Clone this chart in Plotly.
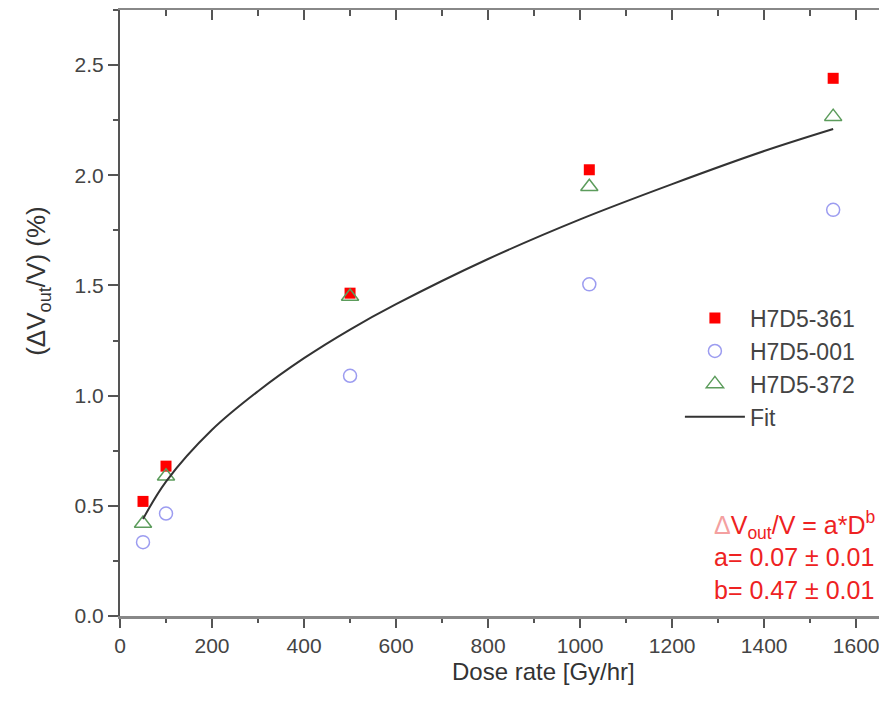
import plotly.graph_objects as go

# ---- data ----
dose = [50, 100, 500, 1020, 1550]
h361 = [0.52, 0.68, 1.465, 2.025, 2.44]
h001 = [0.335, 0.465, 1.09, 1.505, 1.843]
h372 = [0.42, 0.634, 1.45, 1.948, 2.266]

fit_x = [50, 100, 200, 300, 400, 500, 600, 800, 1000, 1200, 1400, 1550]
fit_y = [0.44, 0.61, 0.845, 1.02, 1.17, 1.30, 1.415, 1.62, 1.80, 1.96, 2.11, 2.21]

x_ticks = [0, 200, 400, 600, 800, 1000, 1200, 1400, 1600]
y_ticks = [0.0, 0.5, 1.0, 1.5, 2.0, 2.5]

FONT = "Liberation Sans, Arial, sans-serif"
AXC = "#555555"
TXT = "#444444"

fig = go.Figure()
fig.add_trace(go.Scatter(x=dose, y=h361, mode="markers", name="H7D5-361",
                         marker=dict(symbol="square", size=11, color="#ff0000",
                                     line=dict(width=0))))
fig.add_trace(go.Scatter(x=dose, y=h001, mode="markers", name="H7D5-001",
                         marker=dict(symbol="circle-open", size=13, color="#9c9cf0",
                                     line=dict(width=1.5))))
fig.add_trace(go.Scatter(x=dose, y=h372, mode="markers", name="H7D5-372",
                         marker=dict(symbol="triangle-up-open", size=15, color="#5c9c5c",
                                     line=dict(width=1.5))))
fig.add_trace(go.Scatter(x=fit_x, y=fit_y, mode="lines", name="Fit",
                         line=dict(color="#333333", width=2, shape="spline")))
# dummy trace for the top (mirrored) axis
fig.add_trace(go.Scatter(x=[None], y=[None], xaxis="x2", showlegend=False,
                         hoverinfo="skip"))

xr = [0, 1667]
fig.update_layout(
    width=879, height=696,
    margin=dict(l=112, r=0, t=2, b=88),
    paper_bgcolor="white", plot_bgcolor="white",
    font=dict(family=FONT, color=TXT, size=21),
    showlegend=True,
    legend=dict(x=0.730, y=0.527, xanchor="left", yanchor="top",
                font=dict(size=23, color=TXT), itemwidth=60,
                bgcolor="rgba(0,0,0,0)", tracegroupgap=0),
    xaxis=dict(range=xr, tickvals=x_ticks, ticktext=[str(v) for v in x_ticks],
               showgrid=False, zeroline=False, showline=True, linecolor="#888888",
               linewidth=3, ticks="outside", ticklen=9, tickwidth=2, tickcolor=AXC,
               minor=dict(dtick=100, ticks="outside", ticklen=4, tickwidth=2,
                          tickcolor=AXC, showgrid=False),
               tickfont=dict(size=21, color=TXT)),
    xaxis2=dict(range=xr, overlaying="x", side="top", anchor="y",
                showgrid=False, zeroline=False, showline=True, linecolor="#888888",
                linewidth=3, ticks="inside", ticklen=10, tickwidth=2, tickcolor=AXC,
                tickvals=x_ticks, showticklabels=False,
                minor=dict(dtick=100, ticks="inside", ticklen=6, tickwidth=2,
                           tickcolor=AXC, showgrid=False)),
    yaxis=dict(range=[0, 2.75], tickvals=y_ticks, ticktext=[f"{v:.1f}" for v in y_ticks],
               showgrid=False, zeroline=False, showline=True, linecolor=AXC,
               linewidth=2, ticks="outside", ticklen=10, tickwidth=2, tickcolor=AXC,
               minor=dict(dtick=0.25, ticks="outside", ticklen=5, tickwidth=2,
                          tickcolor=AXC, showgrid=False),
               tickfont=dict(size=21, color=TXT)),
)

# axis titles (placed as in the reference)
fig.add_annotation(xref="paper", yref="paper", x=0.5515, y=-0.091,
                   xanchor="center", yanchor="middle", showarrow=False,
                   text="Dose rate [Gy/hr]",
                   font=dict(size=24, color="#333333", family=FONT))
fig.add_annotation(xref="paper", yref="paper", x=-0.107, y=0.553,
                   xanchor="center", yanchor="middle", showarrow=False, textangle=-90,
                   text="(\u0394V<sub>out</sub>/V) (%)",
                   font=dict(size=26, color="#333333", family=FONT))

fig.add_annotation(
    xref="paper", yref="paper", x=0.772, y=0.10, xanchor="left", yanchor="middle",
    align="left", showarrow=False,
    text=("<span style='color:#f4a0a0'>\u0394</span>V<sub>out</sub>/V = a*D<sup>b</sup><br>"
          "a= 0.07 \u00b1 0.01<br>b= 0.47 \u00b1 0.01"),
    font=dict(size=25, color="#ee2222", family=FONT),
)

fig.write_html("out.html")
